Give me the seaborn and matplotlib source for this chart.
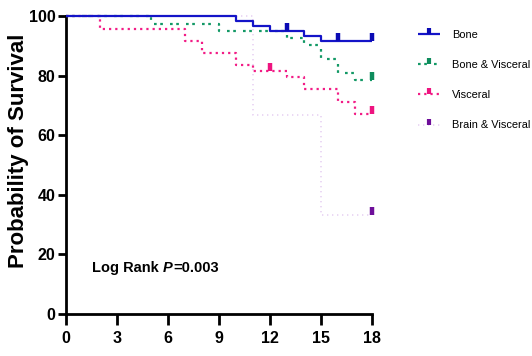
import matplotlib
matplotlib.use("Agg")
import matplotlib.pyplot as plt
import seaborn as sns
import pandas as pd
from matplotlib.lines import Line2D

# ---- data ----
groups = ["Bone", "Bone & Visceral", "Visceral", "Brain & Visceral"]

bone_t = [0, 10, 11, 12, 14, 15, 18]
bone_s = [100, 98.3, 96.6, 95.0, 93.3, 91.6, 91.6]
bone_cens_t = [13, 16, 18]
bone_cens_s = [95.0, 91.6, 91.6]

bv_t = [0, 5, 9, 13, 14, 15, 16, 17, 18]
bv_s = [100, 97.3, 95.0, 92.7, 90.3, 85.7, 81.0, 78.5, 78.5]
bv_cens_t = [18]
bv_cens_s = [78.5]

vis_t = [0, 2, 7, 8, 10, 11, 13, 14, 16, 17, 18]
vis_s = [100, 95.7, 91.7, 87.7, 83.6, 81.5, 79.4, 75.4, 71.1, 67.0, 67.0]
vis_cens_t = [12, 18]
vis_cens_s = [81.5, 67.0]

brv_t = [0, 11, 15, 18]
brv_s = [100, 66.7, 33.3, 33.3]
brv_cens_t = [18]
brv_cens_s = [33.3]

x_ticks = [0, 3, 6, 9, 12, 15, 18]
y_ticks = [0, 20, 40, 60, 80, 100]

# ---- styling ----
sns.set_style("ticks")
plt.rcParams["font.family"] = ["Liberation Sans", "DejaVu Sans"]
plt.rcParams["text.color"] = "black"
plt.rcParams["axes.labelcolor"] = "black"
plt.rcParams["xtick.color"] = "black"
plt.rcParams["ytick.color"] = "black"

line_cols = ["#1414C8", "#139966", "#F21C86", "#E8D2F2"]
tick_cols = ["#0A0AB4", "#0E8C5C", "#EE1480", "#6E0E9A"]
styles = [(0, ()), (0, (1.2, 1.6, 1.2, 3.2)), (0, (1.0, 1.8)), (0, (0.8, 2.2))]
widths = [1.6, 1.6, 1.6, 1.2]

curves = [(bone_t, bone_s, bone_cens_t, bone_cens_s),
          (bv_t, bv_s, bv_cens_t, bv_cens_s),
          (vis_t, vis_s, vis_cens_t, vis_cens_s),
          (brv_t, brv_s, brv_cens_t, brv_cens_s)]

fig = plt.figure(figsize=(5.32, 3.56), dpi=100)
ax = fig.add_axes([66 / 532, 1 - 314 / 356, (372 - 66) / 532, (314 - 16) / 356])

cens_marker = [(0, 0), (0, 1)]

for i in reversed(range(4)):
    t, s, ct, cs = curves[i]
    df = pd.DataFrame({"t": t, "s": s})
    sns.lineplot(data=df, x="t", y="s", ax=ax, estimator=None, sort=False,
                 drawstyle="steps-post", color=line_cols[i], linewidth=widths[i],
                 linestyle=styles[i], clip_on=False, zorder=3 + (4 - i))
    dfc = pd.DataFrame({"t": ct, "s": cs})
    sns.lineplot(data=dfc, x="t", y="s", ax=ax, estimator=None, sort=False,
                 linestyle="", marker=cens_marker, markersize=11,
                 markeredgewidth=3.2, color=tick_cols[i], mec=tick_cols[i],
                 clip_on=False, zorder=10)

ax.set_xlim(0, 18)
ax.set_ylim(0, 100)
ax.set_xticks(x_ticks)
ax.set_yticks(y_ticks)
ax.set_xticklabels([str(v) for v in x_ticks], fontsize=11.5, fontweight="bold")
ax.set_yticklabels([str(v) for v in y_ticks], fontsize=11.5, fontweight="bold")
ax.set_xlabel("")
ax.set_ylabel("Probability of Survival", fontsize=16, fontweight="bold")
ax.yaxis.set_label_coords(-0.122, 0.547)
for sp in ["top", "right"]:
    ax.spines[sp].set_visible(False)
for sp in ["left", "bottom"]:
    ax.spines[sp].set_linewidth(2)
    ax.spines[sp].set_color("black")
ax.tick_params(axis="y", width=2, length=6, color="black", pad=1.5)
ax.tick_params(axis="x", width=2, length=8, color="black", pad=4)

# Log Rank text (P in italic)
fs_lr = 10.5
t1 = ax.text(1.55, 15.4, "Log Rank ", fontsize=fs_lr, fontweight="bold", va="center", ha="left")
fig.canvas.draw()
r = fig.canvas.get_renderer()
bb = t1.get_window_extent(r)
inv = ax.transData.inverted()
x2 = inv.transform((bb.x1, bb.y0))[0]
t2 = ax.text(x2, 15.4, "P", fontsize=fs_lr, fontweight="bold", style="italic", va="center", ha="left")
bb2 = t2.get_window_extent(r)
x3 = inv.transform((bb2.x1, bb2.y0))[0]
ax.text(x3, 15.4, "=0.003", fontsize=fs_lr, fontweight="bold", va="center", ha="left")

# legend
handles = [Line2D([], [], color=line_cols[i], linestyle=styles[i], linewidth=widths[i],
                  marker=cens_marker, markersize=9, markeredgewidth=3,
                  mec=tick_cols[i], mfc=tick_cols[i]) for i in range(4)]
fig.legend(handles, groups, loc="upper left", bbox_to_anchor=(418 / 532, 1 - 29.5 / 356),
           frameon=False, fontsize=7.9, handlelength=2.0, handletextpad=1.1,
           labelspacing=1.85, borderpad=0, borderaxespad=0, numpoints=1)

fig.savefig("out.png", dpi=100)
